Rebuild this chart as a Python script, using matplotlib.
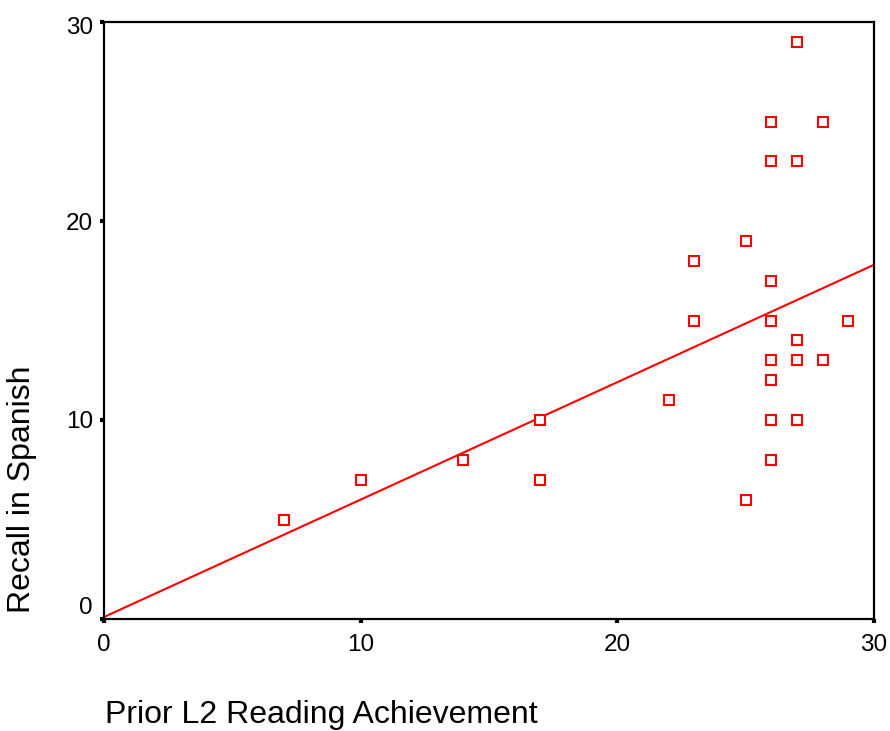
import matplotlib
matplotlib.use("Agg")
import matplotlib.pyplot as plt
import matplotlib.transforms as mtransforms
import numpy as np

plt.rcParams['font.family'] = ['Liberation Sans', 'DejaVu Sans']

prior_l2 = [7, 10, 14, 17, 17, 22, 23, 23, 25, 25,
            26, 26, 26, 26, 26, 26, 26, 26,
            27, 27, 27, 27, 27, 28, 28, 29]
recall_spanish = [5, 7, 8, 10, 7, 11, 18, 15, 19, 6,
                  25, 23, 17, 15, 13, 12, 10, 8,
                  29, 23, 14, 13, 10, 25, 13, 15]
fit_intercept = 0.1
fit_slope = 0.59
x_ticks = [0, 10, 20, 30]
y_ticks = [0, 10, 20, 30]

fig = plt.figure(figsize=(8.9, 7.31), dpi=100)
ax = fig.add_axes([104/890, 1-619/731, (874-104)/890, (619-22)/731])

ax.plot(prior_l2, recall_spanish, linestyle='none', marker='s', markersize=6.5,
        markerfacecolor='white', markeredgecolor='#ff0000', markeredgewidth=1.5, zorder=3)
xs = np.array([0, 30])
ax.plot(xs, fit_intercept + fit_slope*xs, color='#ff0000', linewidth=1.5, zorder=2)

ax.set_xlim(0, 30)
ax.set_ylim(0, 30)
ax.set_xticks(x_ticks)
ax.set_yticks(y_ticks)
ax.set_xticklabels([str(t) for t in x_ticks])
ax.set_yticklabels([str(t) for t in y_ticks])
for s in ax.spines.values():
    s.set_color('black')
    s.set_linewidth(1.6)
ax.tick_params(direction='out', length=3, width=3, labelsize=17.5, colors='black')
ax.tick_params(axis='x', pad=8)
ax.tick_params(axis='y', pad=5)

# shift the "0" y tick label upward like the original
lbl0 = ax.get_yticklabels()[0]
lbl0.set_transform(lbl0.get_transform() + mtransforms.ScaledTranslation(0, 13/100, fig.dpi_scale_trans))
# shift the "30" y tick label slightly down like the original
lbl30 = ax.get_yticklabels()[-1]
lbl30.set_transform(lbl30.get_transform() + mtransforms.ScaledTranslation(0, -3/100, fig.dpi_scale_trans))

fig.text(105/890, 1-715/731, 'Prior L2 Reading Achievement', fontsize=23, ha='left', va='center')
fig.text(22/890, 1-489/731, 'Recall in Spanish', fontsize=23, ha='center', va='center', rotation=90)

fig.savefig('out.png', dpi=100)
